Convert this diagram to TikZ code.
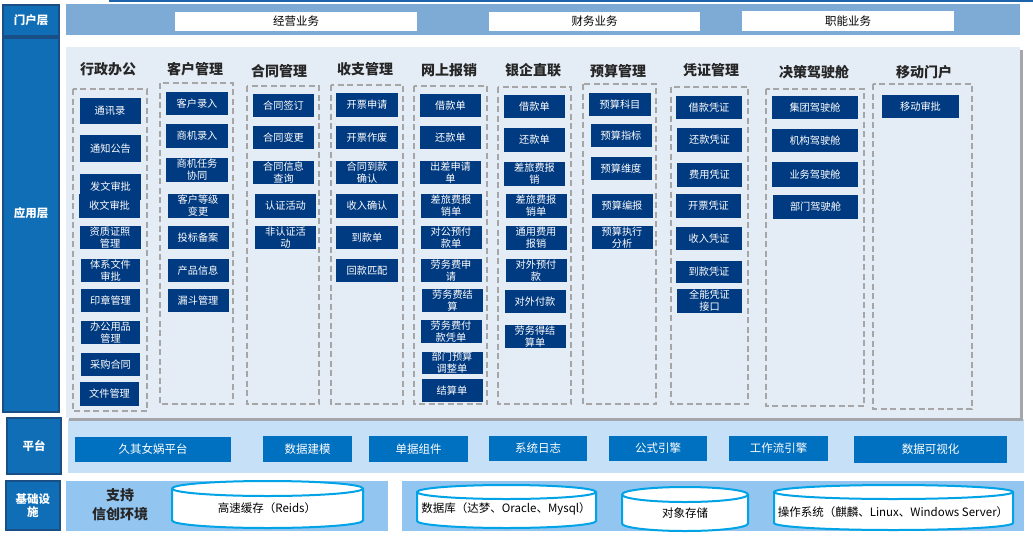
\documentclass[tikz,border=0pt]{standalone}
\usepackage{fontspec}
\setmainfont{Noto Sans CJK SC}
\definecolor{navy}{HTML}{003A80}
\definecolor{lblblue}{HTML}{106EB7}
\definecolor{lbledge}{HTML}{1A4F86}
\definecolor{portal}{HTML}{7EAAD6}
\definecolor{panel}{HTML}{E4ECF6}
\definecolor{shadowgray}{HTML}{A3A7AC}
\definecolor{platband}{HTML}{C6E0F7}
\definecolor{platblue}{HTML}{0070C0}
\definecolor{infra}{HTML}{92C5F0}
\definecolor{cylcyan}{HTML}{00A3E6}
\definecolor{dashgray}{HTML}{A6A6A6}
\definecolor{titlegray}{HTML}{262626}
\definecolor{topblue}{HTML}{1E64AA}
\begin{document}
\begin{tikzpicture}[x=1pt,y=-1pt,
  mod/.style={fill=navy, text=white, inner sep=0pt, minimum width=61pt, minimum height=23.5pt, align=center, font=\fontsize{10.2}{12}\selectfont},
  ttl/.style={font=\fontsize{14}{16}\selectfont\bfseries, text=titlegray, inner sep=0pt},
  grp/.style={draw=dashgray, line width=1.5pt, dash pattern=on 6pt off 3.5pt},
  lbl/.style={fill=lblblue, draw=lbledge, line width=1.5pt, text=white, inner sep=0pt, align=center, font=\fontsize{11.5}{13}\selectfont\bfseries},
  lbltxt/.style={text=white, inner sep=0pt, font=\fontsize{11.5}{13}\selectfont\bfseries},
  biz/.style={fill=white, inner sep=0pt, minimum height=19pt, font=\fontsize{11.5}{14}\selectfont},
  plat/.style={fill=platblue, text=white, inner sep=0pt, minimum height=25pt, font=\fontsize{11.5}{14}\selectfont},
  cyl/.style={draw=cylcyan, line width=2pt, fill=white},
  cyltxt/.style={inner sep=0pt, font=\fontsize{11.5}{14}\selectfont}
]
\useasboundingbox (0,0) rectangle (1033,538);
% bands
\draw[topblue, line width=1.2pt] (109,1) -- (1033,1);
\fill[portal] (66,4) rectangle (1020,35);
\fill[platband] (68,419) rectangle (1024,473);
\fill[shadowgray] (69,50) rectangle (1023,421);
\fill[panel] (66,47) rectangle (1020,418);
\fill[infra] (66,481) rectangle (388,531);
\fill[infra] (402,481) rectangle (1024,531);
% layer labels
\node[lbl, minimum width=56pt, minimum height=31pt] (lay0) at (31,20.5) {门户层};
\node[lbl, minimum width=56pt, minimum height=374pt, label={[lbltxt, yshift=12pt]center:应用层}] (lay1) at (31,225) {};
\node[lbl, minimum width=54pt, minimum height=56pt] (lay2) at (34,446) {平台};
\node[lbl, minimum width=54pt, minimum height=49pt] (lay3) at (33,505.5) {基础设\\施};
% portal
\node[biz, minimum width=242pt] (mh0) at (296,21.5) {经营业务};
\node[biz, minimum width=211pt] (mh1) at (594.5,21.5) {财务业务};
\node[biz, minimum width=212pt, minimum height=20pt] (mh2) at (848,21) {职能业务};
% titles
\node[ttl] (t0) at (108,69) {行政办公};
\node[ttl] (t1) at (195,69) {客户管理};
\node[ttl] (t2) at (279,71) {合同管理};
\node[ttl] (t3) at (365,69) {收支管理};
\node[ttl] (t4) at (449,70) {网上报销};
\node[ttl] (t5) at (533,70) {银企直联};
\node[ttl] (t6) at (618,71) {预算管理};
\node[ttl] (t7) at (711,70) {凭证管理};
\node[ttl] (t8) at (814,72) {决策驾驶舱};
\node[ttl] (t9) at (924,72) {移动门户};
% groups
\draw[grp] (73,89) rectangle (147,411);
\draw[grp] (160,83) rectangle (233,404);
\draw[grp] (247,86) rectangle (319,404);
\draw[grp] (331,85) rectangle (403,404);
\draw[grp] (414,86) rectangle (487,404);
\draw[grp] (498,87) rectangle (571,404);
\draw[grp] (583,84) rectangle (656,404);
\draw[grp] (671,87) rectangle (748,404);
\draw[grp] (766,89) rectangle (864,406);
\draw[grp] (873,84) rectangle (972,409);
% 行政办公
\node[mod, minimum height=26pt] (xz0) at (110,111) {通讯录};
\node[mod, minimum height=27pt] (xz1) at (110.5,148.5) {通知公告};
\node[mod, minimum height=26pt] (xz2) at (110.5,187) {发文审批};
\node[mod, minimum height=24pt] (xz3) at (109.5,206) {收文审批};
\node[mod] (xz4) at (110,237.5) {资质证照\\管理};
\node[mod, minimum width=59pt] (xz5) at (110.5,270.5) {体系文件\\审批};
\node[mod, minimum width=59pt] (xz6) at (110.5,300.5) {印章管理};
\node[mod, minimum width=59pt] (xz7) at (110.5,332.5) {办公用品\\管理};
\node[mod, minimum width=59pt] (xz8) at (110.5,364.5) {采购合同};
\node[mod, minimum width=59pt, minimum height=24pt] (xz9) at (109.5,394) {文件管理};
% 客户管理
\node[mod, minimum width=62pt] (kh0) at (197,103.5) {客户录入};
\node[mod, minimum width=62pt] (kh1) at (197,136) {商机录入};
\node[mod, minimum width=62pt] (kh2) at (197,170) {商机任务\\协同};
\node[mod, minimum width=61pt] (kh3) at (198,206) {客户等级\\变更};
\node[mod, minimum width=61pt] (kh4) at (198,237.5) {投标备案};
\node[mod, minimum width=61pt] (kh5) at (198,270.5) {产品信息};
\node[mod, minimum width=61pt] (kh6) at (198,300.5) {漏斗管理};
% 合同管理
\node[mod] (ht0) at (283.5,105.5) {合同签订};
\node[mod] (ht1) at (283.5,137.5) {合同变更};
\node[mod] (ht2) at (283.5,172.5) {合同信息\\查询};
\node[mod] (ht3) at (285.5,206) {认证活动};
\node[mod] (ht4) at (285.5,237.5) {非认证活\\动};
% 收支管理
\node[mod, minimum width=62pt] (sz0) at (367,105) {开票申请};
\node[mod, minimum width=62pt] (sz1) at (367,137.5) {开票作废};
\node[mod, minimum width=62pt] (sz2) at (367,172.5) {合同到款\\确认};
\node[mod, minimum width=62pt] (sz3) at (367,206) {收入确认};
\node[mod, minimum width=62pt] (sz4) at (367,237.5) {到款单};
\node[mod, minimum width=62pt] (sz5) at (367,270.5) {回款匹配};
% 网上报销
\node[mod] (bx0) at (450.5,105.5) {借款单};
\node[mod] (bx1) at (450.5,137.5) {还款单};
\node[mod] (bx2) at (450.5,172.5) {出差申请\\单};
\node[mod] (bx3) at (451,206) {差旅费报\\销单};
\node[mod] (bx4) at (451,237.5) {对公预付\\款单};
\node[mod] (bx5) at (451,270.5) {劳务费申\\请};
\node[mod] (bx6) at (452.5,300.5) {劳务费结\\算};
\node[mod] (bx7) at (451,331.5) {劳务费付\\款凭单};
\node[mod, minimum height=22.5pt] (bx8) at (452,363) {部门预算\\调整单};
\node[mod] (bx9) at (452,390.5) {结算单};
% 银企直联
\node[mod] (yq0) at (534.5,106.5) {借款单};
\node[mod] (yq1) at (534.5,140) {还款单};
\node[mod] (yq2) at (534.5,174) {差旅费报\\销};
\node[mod] (yq3) at (536,206) {差旅费报\\销单};
\node[mod] (yq4) at (536,238) {通用费用\\报销};
\node[mod] (yq5) at (536,270.5) {对外预付\\款};
\node[mod] (yq6) at (535,301.5) {对外付款};
\node[mod] (yq7) at (535,336.5) {劳务得结\\算单};
% 预算管理
\node[mod, minimum width=62pt] (ys0) at (620,104.5) {预算科目};
\node[mod, minimum width=61pt] (ys1) at (621,135.5) {预算指标};
\node[mod, minimum width=61pt] (ys2) at (621,168.5) {预算维度};
\node[mod, minimum width=61pt] (ys3) at (622,206) {预算编报};
\node[mod, minimum width=61pt] (ys4) at (622,237.5) {预算执行\\分析};
% 凭证管理
\node[mod, minimum width=66pt] (pz0) at (709,107.5) {借款凭证};
\node[mod, minimum width=65pt] (pz1) at (709.5,140) {还款凭证};
\node[mod, minimum width=65pt] (pz2) at (709.5,175) {费用凭证};
\node[mod, minimum width=65pt] (pz3) at (708.5,206) {开票凭证};
\node[mod, minimum width=66pt] (pz4) at (709,238.5) {收入凭证};
\node[mod, minimum width=66pt, minimum height=22.5pt] (pz5) at (709,272) {到款凭证};
\node[mod, minimum width=65pt] (pz6) at (709.5,301) {全能凭证\\接口};
% 决策驾驶舱
\node[mod, minimum width=86pt] (jc0) at (815,107.5) {集团驾驶舱};
\node[mod, minimum width=86pt] (jc1) at (815,140.5) {机构驾驶舱};
\node[mod, minimum width=86pt, minimum height=25pt] (jc2) at (815,174.5) {业务驾驶舱};
\node[mod, minimum width=85pt] (jc3) at (815.5,207) {部门驾驶舱};
% 移动门户
\node[mod, minimum width=77pt] (yd0) at (920.5,106.5) {移动审批};
% platform
\node[plat, minimum width=156pt] (pt0) at (153,449.5) {久其女娲平台};
\node[plat, minimum width=89pt, minimum height=26pt] (pt1) at (307.5,449) {数据建模};
\node[plat, minimum width=99pt, minimum height=26pt] (pt2) at (418.5,449) {单据组件};
\node[plat, minimum width=98pt] (pt3) at (538,448.5) {系统日志};
\node[plat, minimum width=98pt] (pt4) at (658,448.5) {公式引擎};
\node[plat, minimum width=99pt] (pt5) at (778.5,448.5) {工作流引擎};
\node[plat, minimum width=153pt, minimum height=27pt] (pt6) at (930.5,449.5) {数据可视化};
% infrastructure
\node[ttl, align=center, font=\fontsize{14}{19}\selectfont\bfseries] (inf0) at (120,505) {支持\\信创环境};
\draw[cyl] (172,488.5) -- (172,520.5) arc[start angle=180, end angle=360, x radius=95.5pt, y radius=7.5pt] -- (363,488.5) arc[start angle=0, end angle=180, x radius=95.5pt, y radius=7.5pt] -- cycle;
\draw[cyl, fill=none] (172,488.5) arc[start angle=180, end angle=360, x radius=95.5pt, y radius=7.5pt];
\draw[cyl] (417,492) -- (417,521) arc[start angle=180, end angle=360, x radius=89.5pt, y radius=7pt] -- (596,492) arc[start angle=0, end angle=180, x radius=89.5pt, y radius=7pt] -- cycle;
\draw[cyl, fill=none] (417,492) arc[start angle=180, end angle=360, x radius=89.5pt, y radius=7pt];
\draw[cyl] (622,494.5) -- (622,523.5) arc[start angle=180, end angle=360, x radius=63pt, y radius=7.5pt] -- (748,494.5) arc[start angle=0, end angle=180, x radius=63pt, y radius=7.5pt] -- cycle;
\draw[cyl, fill=none] (622,494.5) arc[start angle=180, end angle=360, x radius=63pt, y radius=7.5pt];
\draw[cyl] (774,492) -- (774,523) arc[start angle=180, end angle=360, x radius=119.5pt, y radius=7pt] -- (1013,492) arc[start angle=0, end angle=180, x radius=119.5pt, y radius=7pt] -- cycle;
\draw[cyl, fill=none] (774,492) arc[start angle=180, end angle=360, x radius=119.5pt, y radius=7pt];
\node[cyltxt] (db0) at (267,508) {高速缓存（Reids）};
\node[cyltxt] (db1) at (506,509) {数据库（达梦、Oracle、Mysql）};
\node[cyltxt] (db2) at (685,513) {对象存储};
\node[cyltxt] (db3) at (893,512) {操作系统（麒麟、Linux、Windows Server）};
\end{tikzpicture}
\end{document}
